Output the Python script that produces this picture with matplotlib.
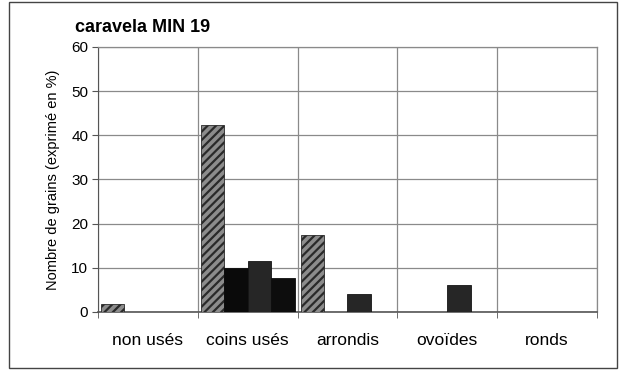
import numpy as np
import matplotlib.pyplot as plt
from matplotlib.patches import Rectangle

plt.rcParams['font.family'] = ['Liberation Sans', 'DejaVu Sans']
plt.rcParams['hatch.linewidth'] = 1.6

categories = ['non usés', 'coins usés', 'arrondis', 'ovoïdes', 'ronds']
serie_1 = [1.9, 42.3, 17.4, 0, 0]
serie_2 = [0, 10.0, 0, 0, 0]
serie_3 = [0, 11.6, 4.1, 6.0, 0]
serie_4 = [0, 7.8, 0, 0, 0]

fig = plt.figure(figsize=(6.19, 3.72), dpi=100)
ax = fig.add_axes([0.1583, 0.1613, 0.806, 0.7124])

x = np.arange(len(categories))
w = 0.235
styles = [
    dict(facecolor='#8c8c8c', edgecolor='#2a2a2a', hatch='////'),
    dict(facecolor='#0a0a0a', edgecolor='#0a0a0a'),
    dict(facecolor='#262626', edgecolor='#151515'),
    dict(facecolor='#0d0d0d', edgecolor='#0d0d0d'),
]
for i, (vals, st) in enumerate(zip([serie_1, serie_2, serie_3, serie_4], styles)):
    ax.bar(x + (i - 1.5) * w, vals, w, linewidth=0.6, zorder=3, **st)

ax.set_xlim(-0.5, len(categories) - 0.5)
ax.set_ylim(0, 60)
ax.set_yticks(np.arange(0, 61, 10))
ax.set_xticks(x)
ax.set_xticklabels(categories, fontsize=12.5)
ax.set_xticks(np.arange(-0.5, len(categories)), minor=True)
ax.tick_params(axis='x', which='major', length=0, pad=15)
ax.tick_params(axis='x', which='minor', length=4, color='#555555', direction='out')
ax.tick_params(axis='y', length=4, color='#555555', labelsize=11, pad=3)
ax.grid(True, which='minor', axis='x', color='#8a8a8a', linewidth=0.9, zorder=0)
ax.grid(True, which='major', axis='y', color='#8a8a8a', linewidth=0.9, zorder=0)

for side in ['top', 'right']:
    ax.spines[side].set_color('#8a8a8a')
    ax.spines[side].set_linewidth(0.9)
ax.spines['left'].set_color('#555555')
ax.spines['bottom'].set_color('#555555')
ax.spines['bottom'].set_linewidth(1.2)

ax.set_ylabel('Nombre de grains (exprimé en %)', fontsize=10.5, labelpad=8)
fig.text(75 / 619, 1 - 32 / 372, 'caravela MIN 19', fontsize=13, fontweight='bold')

# outer frame around the whole chart
fig.patches.append(Rectangle((9 / 619, 4 / 372), 608 / 619, 366 / 372,
                             transform=fig.transFigure, fill=False,
                             edgecolor='#444444', linewidth=1.0))

fig.savefig('out.png', dpi=100)
